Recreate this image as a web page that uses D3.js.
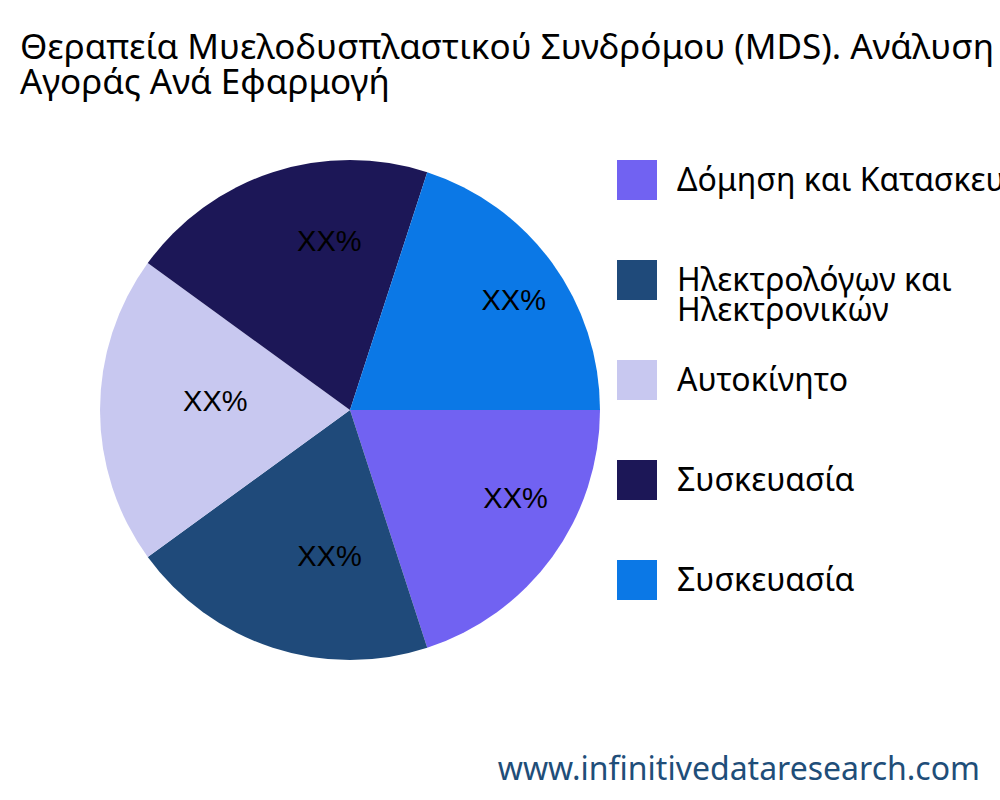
<!DOCTYPE html>
<html>
<head>
<meta charset="utf-8">
<script src="https://cdn.jsdelivr.net/npm/d3@7"></script>
<style>
  body { margin: 0; background: #fff; }
  svg { display: block; }
</style>
</head>
<body>
<div id="chart"></div>
<script>
// chart data
const categories = ["Δόμηση και Κατασκευή", "Ηλεκτρολόγων και Ηλεκτρονικών", "Αυτοκίνητο", "Συσκευασία", "Συσκευασία"];
const legendLines = [["Δόμηση και Κατασκευή"], ["Ηλεκτρολόγων και", "Ηλεκτρονικών"], ["Αυτοκίνητο"], ["Συσκευασία"], ["Συσκευασία"]];
const values = [20, 20, 20, 20, 20];
const sliceLabels = ["XX%", "XX%", "XX%", "XX%", "XX%"];
// where the labels sit in the reference: angle (deg, clockwise from 3 o'clock) and fraction of radius
const labelAngles = [28, 98, 184, 263, 326];
const labelRadii = [0.75, 0.59, 0.54, 0.68, 0.79];
const colors = ["#7162f2", "#1f4a7a", "#c8c8f0", "#1c1757", "#0b78e6"];

const svg = d3.select("#chart").append("svg")
  .attr("width", 1000).attr("height", 800);

// title
svg.append("text")
  .attr("font-family", "Noto Sans").attr("font-size", 35).attr("fill", "#000")
  .selectAll("tspan").data(["Θεραπεία Μυελοδυσπλαστικού Συνδρόμου (MDS). Ανάλυση", "Αγοράς Ανά Εφαρμογή"])
  .enter().append("tspan")
  .attr("x", 20).attr("y", (d, i) => 59 + i * 35).text(d => d);

// pie
const cx = 350, cy = 410, r = 250;
const pie = d3.pie().sort(null).startAngle(Math.PI / 2).endAngle(Math.PI / 2 + 2 * Math.PI);
const arc = d3.arc().innerRadius(0).outerRadius(r);

const g = svg.append("g").attr("transform", `translate(${cx},${cy})`);
const arcs = pie(values);
g.selectAll("path").data(arcs).enter().append("path")
  .attr("d", arc).attr("fill", (d, i) => colors[i]);

g.selectAll(".lbl").data(arcs).enter().append("text")
  .attr("class", "lbl")
  .attr("transform", (d, i) => {
    const a = labelAngles[i] * Math.PI / 180, rr = labelRadii[i] * r;
    return `translate(${rr * Math.cos(a)},${rr * Math.sin(a)})`;
  })
  .attr("text-anchor", "middle").attr("dy", "0.35em")
  .attr("font-family", "Liberation Sans").attr("font-size", 29).attr("fill", "#000")
  .text((d, i) => sliceLabels[i]);

// legend
const legend = svg.append("g");
legendLines.forEach((lines, i) => {
  const y = 160 + i * 100;
  legend.append("rect").attr("x", 617).attr("y", y).attr("width", 40).attr("height", 40).attr("fill", colors[i]);
  legend.append("text")
    .attr("font-family", "Noto Sans").attr("font-size", 32).attr("fill", "#000")
    .selectAll("tspan").data(lines).enter().append("tspan")
    .attr("x", 677).attr("y", (d, j) => y + 31 + j * 30).text(d => d);
});

// footer
svg.append("text")
  .attr("x", 980).attr("y", 780).attr("text-anchor", "end")
  .attr("font-family", "Noto Sans").attr("font-size", 32).attr("fill", "#1f4e79")
  .text("www.infinitivedataresearch.com");
</script>
</body>
</html>
